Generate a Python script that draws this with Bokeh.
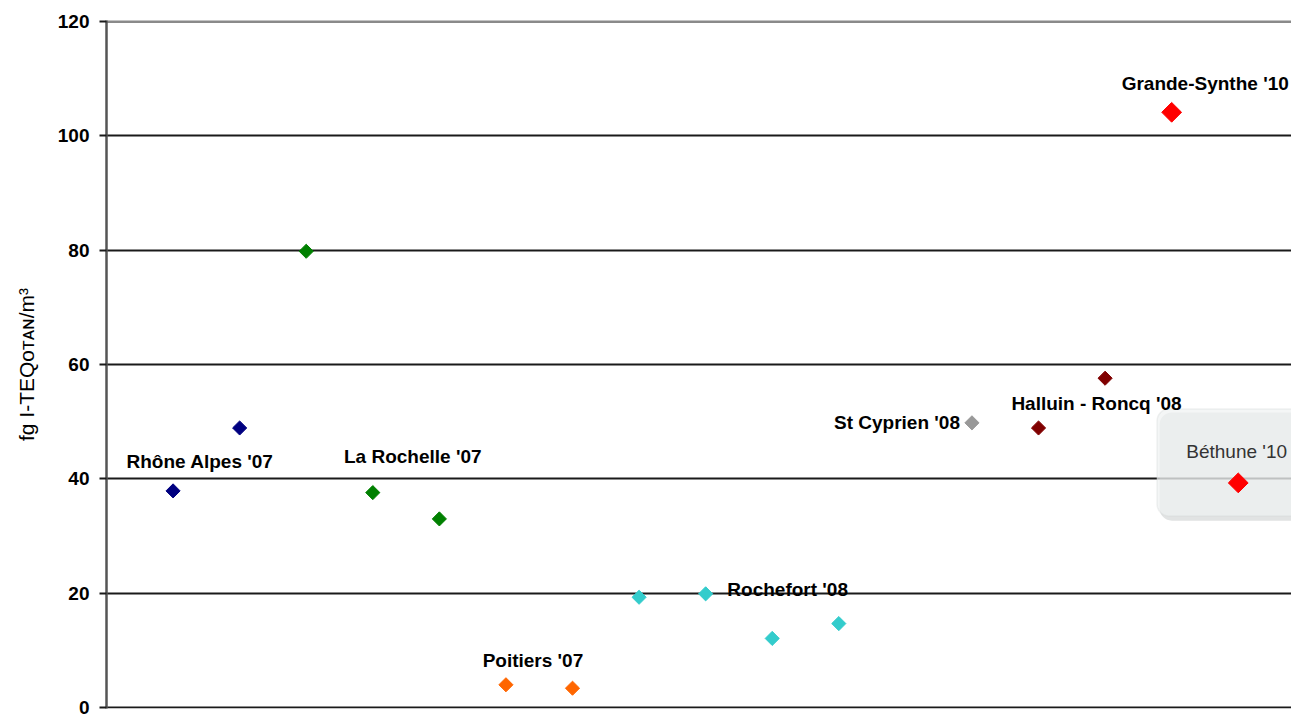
import math
from bokeh.plotting import figure
from bokeh.models import Range1d, FixedTicker, Grid, BoxAnnotation, ColumnDataSource
from bokeh.core.properties import value
from bokeh.embed import file_html
from bokeh.resources import INLINE

# ---- data ----
series_names = ["Rhône Alpes '07", "La Rochelle '07", "Poitiers '07", "Rochefort '08",
                "St Cyprien '08", "Halluin - Roncq '08", "Grande-Synthe '10", "Béthune '10"]
rhone_x, rhone_y = [1, 2], [37.9, 48.9]
rochelle_x, rochelle_y = [3, 4, 5], [79.8, 37.6, 33.0]
poitiers_x, poitiers_y = [6, 7], [4.0, 3.4]
rochefort_x, rochefort_y = [8, 9, 10, 11], [19.3, 19.9, 12.1, 14.7]
cyprien_x, cyprien_y = [13], [49.8]
halluin_x, halluin_y = [14, 15], [48.9, 57.6]
grande_x, grande_y = [16], [104.1]
bethune_x, bethune_y = [17], [39.3]
y_ticks = [0, 20, 40, 60, 80, 100, 120]
y_title = "fg I-TEQᴏᴛᴀɴ/m³"

# ---- styles ----
colors = ["#000080", "#008000", "#FF6600", "#33CCCC", "#999999", "#800000", "#FF0000", "#FF0000"]
sizes = [10, 10, 10, 10, 10, 10, 14, 14]
# label anchor: index of the point in the series, pixel offsets, alignment
label_anchor = [(0, 27, -29, "center"), (1, 40, -36, "center"), (0, 27, -24, "center"),
                (1, 82, -4, "center"), (0, -12, 0, "right"), (0, 58, -24, "center"),
                (0, -50, -29, "left"), (0, -52, -31, "left")]
label_colors = ["black"] * 7 + ["#333333"]

xs = [rhone_x, rochelle_x, poitiers_x, rochefort_x, cyprien_x, halluin_x, grande_x, bethune_x]
ys = [rhone_y, rochelle_y, poitiers_y, rochefort_y, cyprien_y, halluin_y, grande_y, bethune_y]

FONT = "Liberation Sans"

p = figure(width=1291, height=720, output_backend="svg", toolbar_location=None,
           x_range=Range1d(0, 17.8), y_range=Range1d(-0.15, 120.15), x_axis_type=None,
           min_border_left=106, min_border_top=20, min_border_bottom=12, min_border_right=0)
p.outline_line_color = None
p.background_fill_color = "white"
p.border_fill_color = "white"
p.xgrid.visible = False
p.ygrid.visible = False

# dark grid lines 0..100, lighter top line at 120
dark_grid = Grid(dimension=1, ticker=FixedTicker(ticks=y_ticks[:-1]),
                 grid_line_color="#1a1a1a", grid_line_width=2)
top_grid = Grid(dimension=1, ticker=FixedTicker(ticks=y_ticks[-1:]),
                grid_line_color="#8a8a8a", grid_line_width=3)
p.add_layout(dark_grid)
p.add_layout(top_grid)

ax = p.yaxis[0]
ax.ticker = FixedTicker(ticks=y_ticks)
ax.minor_tick_line_color = None
ax.major_tick_in = 0
ax.major_tick_out = 7
ax.major_tick_line_color = "#1a1a1a"
ax.major_tick_line_width = 2
ax.axis_line_color = "#555555"
ax.axis_line_width = 2.5
ax.major_label_standoff = 10
ax.major_label_text_font = FONT
ax.major_label_text_font_size = "19px"
ax.major_label_text_font_style = "bold"
ax.major_label_text_color = "black"
ax.axis_label = y_title
ax.axis_label_text_font = FONT
ax.axis_label_text_font_size = "21px"
ax.axis_label_text_font_style = "normal"
ax.axis_label_text_color = "black"
ax.axis_label_standoff = 17

# Béthune callout box (shadow + box), placed around the Béthune point
bx, by = bethune_x[0], bethune_y[0]
p.add_layout(BoxAnnotation(left=bx - 1.18, right=bx + 2, top=by + 12.3, bottom=by - 6.6,
                           border_radius=12, fill_color="#a9aeae", fill_alpha=0.35,
                           line_color=None, level="underlay"))
p.add_layout(BoxAnnotation(left=bx - 1.22, right=bx + 2, top=by + 12.9, bottom=by - 5.8,
                           border_radius=12, fill_color="#f0f2f2", fill_alpha=0.7,
                           line_color="#cfd4d4", line_width=1.5, level="underlay"))

# points
for xv, yv, c, s in zip(xs, ys, colors, sizes):
    p.scatter(xv, yv, marker="square", angle=math.pi / 4, size=s,
              fill_color=c, line_color=c, line_width=1)

# point labels
for name, xv, yv, (i, dx, dy, al), lc in zip(series_names, xs, ys, label_anchor, label_colors):
    src = ColumnDataSource(dict(x=[xv[i]], y=[yv[i]], text=[name]))
    p.text(x="x", y="y", text="text", source=src, x_offset=dx, y_offset=dy,
           text_align=al, text_baseline="alphabetic", text_font=value(FONT),
           text_font_size="19px", text_font_style="bold" if lc == "black" else "normal",
           text_color=lc)

open("out.html", "w").write(file_html(p, INLINE))
